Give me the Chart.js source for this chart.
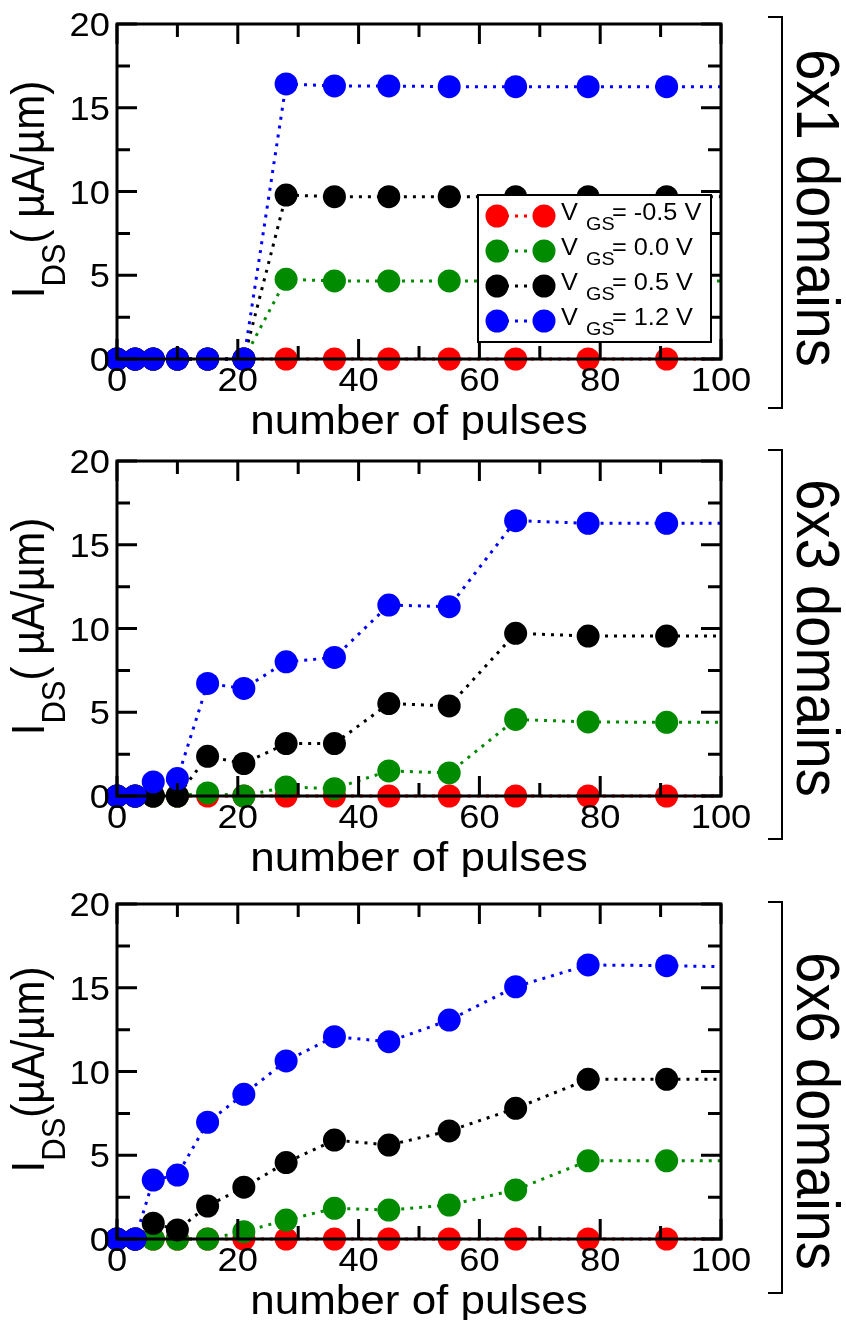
<!DOCTYPE html>
<html>
<head>
<meta charset="utf-8">
<script src="https://cdn.jsdelivr.net/npm/chart.js@4.4.0/dist/chart.umd.min.js"></script>
<style>
  html, body { margin: 0; padding: 0; background: #fff; }
  body { width: 846px; height: 1325px; position: relative; overflow: hidden; }
  .panel { position: absolute; left: 0; width: 846px; height: 440px; }
</style>
</head>
<body>
<div class="panel" style="top:0px"><canvas id="p1"></canvas></div>
<div class="panel" style="top:437px"><canvas id="p2"></canvas></div>
<div class="panel" style="top:880px"><canvas id="p3"></canvas></div>
<script>
const pulses = [0, 3, 6, 10, 15, 21, 28, 36, 45, 55, 66, 78, 91, 105];
const xTicks = [0, 20, 40, 60, 80, 100];
const xMinorTicks = [10, 30, 50, 70, 90];
const yTicks = [0, 5, 10, 15, 20];
const yMinorTicks = [2.5, 7.5, 12.5, 17.5];
const vgsLabels = ["-0.5 V", "0.0 V", "0.5 V", "1.2 V"];
const seriesColors = ["#ff0000", "#008b00", "#000000", "#0000ff"];

// 6x1 domains
const red6x1   = [0, 0, 0, 0, 0, 0, 0, 0, 0, 0, 0, 0, 0, 0];
const green6x1 = [0, 0, 0, 0, 0, 0, 4.76, 4.66, 4.66, 4.66, 4.66, 4.66, 4.66, 4.66];
const black6x1 = [0, 0, 0, 0, 0, 0, 9.79, 9.69, 9.69, 9.69, 9.69, 9.69, 9.69, 9.69];
const blue6x1  = [0, 0, 0, 0, 0, 0, 16.42, 16.3, 16.3, 16.26, 16.26, 16.26, 16.26, 16.26];

// 6x3 domains
const red6x3   = [0, 0, 0, 0, 0, 0, 0, 0, 0, 0, 0, 0, 0, 0];
const green6x3 = [0, 0, 0, 0, 0.18, 0, 0.54, 0.44, 1.5, 1.38, 4.57, 4.42, 4.4, 4.4];
const black6x3 = [0, 0, 0, 0, 2.37, 1.94, 3.13, 3.13, 5.52, 5.38, 9.71, 9.55, 9.55, 9.55];
const blue6x3  = [0, 0, 0.84, 1.04, 6.72, 6.42, 8.01, 8.27, 11.4, 11.3, 16.44, 16.28, 16.28, 16.28];

// 6x6 domains
const red6x6   = [0, 0, 0, 0, 0, 0, 0, 0, 0, 0, 0, 0, 0, 0];
const green6x6 = [0, 0, 0, 0, 0, 0.44, 1.13, 1.83, 1.73, 2.03, 2.93, 4.67, 4.67, 4.67];
const black6x6 = [0, 0, 0.94, 0.54, 1.97, 3.09, 4.56, 5.91, 5.61, 6.45, 7.8, 9.53, 9.53, 9.53];
const blue6x6  = [0, 0, 3.52, 3.82, 6.97, 8.64, 10.63, 12.08, 11.78, 13.07, 15.06, 16.36, 16.32, 16.22];

const panels = [
  { id: "p1", name: "6x1 domains", unit: "( µA/µm)", series: [red6x1, green6x1, black6x1, blue6x1], legend: true, bracket: [17, 408], nameY: 208 },
  { id: "p2", name: "6x3 domains", unit: "( µA/µm)", series: [red6x3, green6x3, black6x3, blue6x3], legend: false, bracket: [13, 402], nameY: 201 },
  { id: "p3", name: "6x6 domains", unit: "(µA/µm)", series: [red6x6, green6x6, black6x6, blue6x6], legend: false, bracket: [22, 413], nameY: 231 }
];

const FONT = "'Liberation Sans', Arial, Helvetica, sans-serif";
const STRETCH = 1.1; // text in the figure is a bit wider than tall

function text(ctx, str, x, y, size, align, rot) {
  ctx.save();
  ctx.translate(x, y);
  ctx.scale(STRETCH, 1);
  ctx.rotate(rot || 0);
  ctx.font = size + "px " + FONT;
  ctx.textAlign = align || "left";
  ctx.textBaseline = "alphabetic";
  ctx.fillStyle = "#000";
  ctx.fillText(str, 0, 0);
  ctx.restore();
}

// box + inward ticks on all four sides, drawn over the markers
const framePlugin = {
  id: "frame",
  afterDatasetsDraw(chart) {
    const { ctx, chartArea: a, scales: { x, y } } = chart;
    ctx.save();
    ctx.strokeStyle = "#000";
    ctx.lineWidth = 3;
    ctx.setLineDash([]);
    ctx.beginPath();
    const tx = (v, len) => {
      const px = x.getPixelForValue(v);
      ctx.moveTo(px, a.bottom); ctx.lineTo(px, a.bottom - len);
      ctx.moveTo(px, a.top); ctx.lineTo(px, a.top + len);
    };
    const ty = (v, len) => {
      const py = y.getPixelForValue(v);
      ctx.moveTo(a.left, py); ctx.lineTo(a.left + len, py);
      ctx.moveTo(a.right, py); ctx.lineTo(a.right - len, py);
    };
    xTicks.forEach(v => tx(v, 20));
    xMinorTicks.forEach(v => tx(v, 13));
    yTicks.forEach(v => ty(v, 20));
    yMinorTicks.forEach(v => ty(v, 13));
    ctx.stroke();
    ctx.strokeRect(a.left, a.top, a.right - a.left, a.bottom - a.top);
    ctx.restore();
  }
};

const decorPlugin = {
  id: "decor",
  afterDraw(chart, args, opts) {
    const p = opts.panel;
    const { ctx, chartArea: a, scales: { x, y } } = chart;

    // tick labels
    xTicks.forEach(v => text(ctx, String(v), x.getPixelForValue(v), a.bottom + 32, 33, "center"));
    yTicks.forEach(v => text(ctx, String(v), a.left - 7, y.getPixelForValue(v) + 12, 33, "right"));

    // axis titles
    text(ctx, "number of pulses", (a.left + a.right) / 2, a.bottom + 75, 40, "center");

    ctx.save();
    ctx.translate(44, (a.top + a.bottom) / 2 - 2);
    ctx.scale(STRETCH, 1);
    ctx.rotate(-Math.PI / 2);
    ctx.fillStyle = "#000";
    ctx.textBaseline = "alphabetic";
    const parts = [["I", 42, 0], ["DS", 31, 19], [p.unit, 42, 0]];
    let total = 0;
    parts.forEach(([t, s]) => { ctx.font = s + "px " + FONT; total += ctx.measureText(t).width; });
    let cx = -total / 2;
    parts.forEach(([t, s, dy]) => {
      ctx.font = s + "px " + FONT;
      ctx.fillText(t, cx, dy);
      cx += ctx.measureText(t).width;
    });
    ctx.restore();

    // bracket and domain label on the right
    const [b0, b1] = p.bracket;
    ctx.save();
    ctx.strokeStyle = "#000";
    ctx.lineWidth = 2;
    ctx.beginPath();
    ctx.moveTo(768, b0); ctx.lineTo(782, b0); ctx.lineTo(782, b1); ctx.lineTo(768, b1);
    ctx.stroke();
    ctx.restore();
    text(ctx, p.name, 797, p.nameY, 56, "center", Math.PI / 2);

    if (p.legend) drawLegend(chart);
  }
};

function drawLegend(chart) {
  const ctx = chart.ctx;
  const left = 478, top = 195, w = 233, h = 147;
  ctx.save();
  ctx.fillStyle = "#fff";
  ctx.fillRect(left, top, w, h);
  ctx.strokeStyle = "#000";
  ctx.lineWidth = 2;
  ctx.strokeRect(left, top, w, h);
  chart.data.datasets.forEach((ds, k) => {
    const ry = 216 + k * 35;
    ctx.strokeStyle = ds.borderColor;
    ctx.lineWidth = 3;
    ctx.setLineDash([3, 6]);
    ctx.beginPath();
    ctx.moveTo(497, ry); ctx.lineTo(544, ry);
    ctx.stroke();
    ctx.setLineDash([]);
    ctx.fillStyle = ds.borderColor;
    [497, 544].forEach(mx => {
      ctx.beginPath();
      ctx.arc(mx, ry, 11.5, 0, Math.PI * 2);
      ctx.fill();
    });
    text(ctx, "V", 561, ry + 4, 23);
    text(ctx, "GS", 586, ry + 14, 18);
    text(ctx, "= " + vgsLabels[k], 612, ry + 4, 23);
  });
  ctx.restore();
}

panels.forEach(p => {
  const datasets = p.series.map((vals, k) => ({
    label: vgsLabels[k],
    data: pulses.map((px, i) => ({ x: px, y: vals[i] })),
    borderColor: seriesColors[k],
    backgroundColor: seriesColors[k],
    borderWidth: 3,
    borderDash: [3, 6],
    pointRadius: 11.5,
    pointHoverRadius: 11.5,
    pointBorderWidth: 0,
    tension: 0,
    order: 3 - k,
    clip: { left: 30, top: 30, right: 0, bottom: 30 }
  }));

  new Chart(document.getElementById(p.id), {
    type: "line",
    data: { datasets },
    options: {
      responsive: true,
      maintainAspectRatio: false,
      animation: false,
      events: [],
      layout: { padding: { top: 24, right: 125, bottom: 0, left: 0 } },
      plugins: {
        legend: { display: false },
        tooltip: { enabled: false },
        decor: { panel: p }
      },
      scales: {
        x: {
          type: "linear", min: 0, max: 100,
          grid: { display: false, drawTicks: false },
          border: { display: false },
          ticks: { display: false },
          afterBuildTicks: s => { s.ticks = xTicks.map(v => ({ value: v })); },
          afterFit: s => { s.height = 81; }
        },
        y: {
          type: "linear", min: 0, max: 20,
          grid: { display: false, drawTicks: false },
          border: { display: false },
          ticks: { display: false },
          afterBuildTicks: s => { s.ticks = yTicks.map(v => ({ value: v })); },
          afterFit: s => { s.width = 117; }
        }
      }
    },
    plugins: [framePlugin, decorPlugin]
  });
});
</script>
</body>
</html>
